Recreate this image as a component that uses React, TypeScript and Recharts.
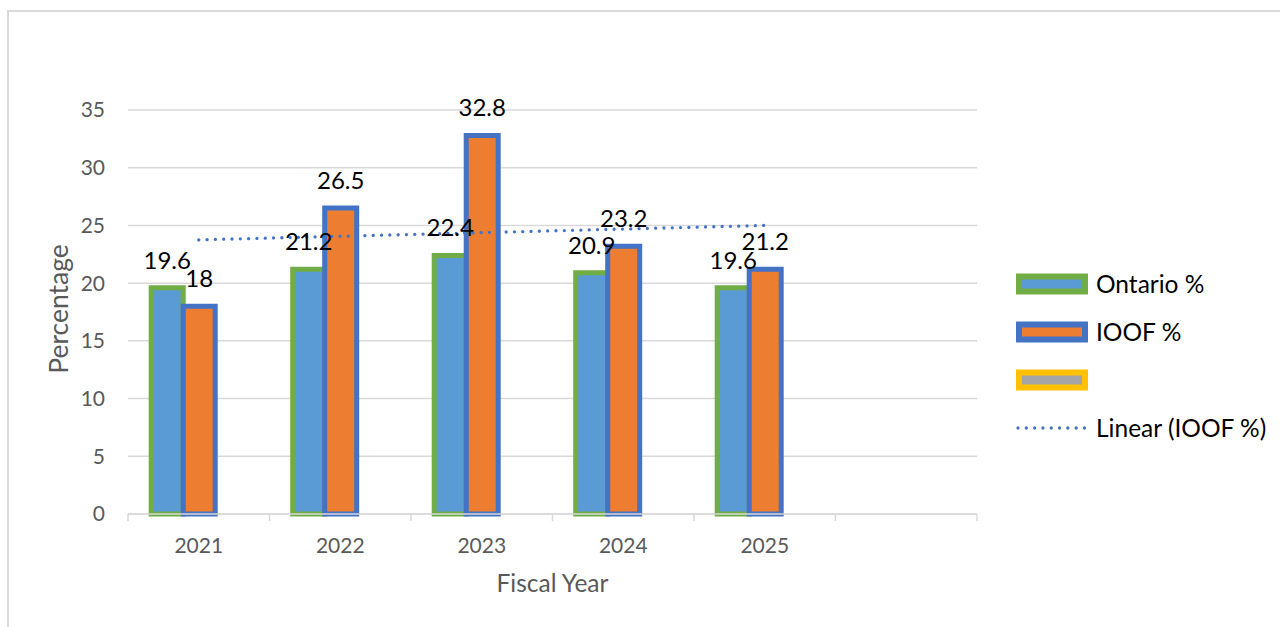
import React from 'react';
import { ComposedChart, Bar, Line, XAxis, YAxis, CartesianGrid, LabelList, Legend } from 'recharts';

const categories = ['2021', '2022', '2023', '2024', '2025', ' '];
const ontarioValues = [19.6, 21.2, 22.4, 20.9, 19.6, null];
const ioofValues = [18, 26.5, 32.8, 23.2, 21.2, null];
const blankValues = [null, null, null, null, null, null];
// Linear trend of IOOF % at its two ends
const trendValues = [23.75, null, null, null, 25.0, null];
const yTicks = [0, 5, 10, 15, 20, 25, 30, 35];

const seriesNames = ['Ontario %', 'IOOF %', '', 'Linear (IOOF %)'];
const seriesFills = ['#5B9BD5', '#ED7D31', '#A5A5A5', 'none'];
const seriesStrokes = ['#70AD47', '#4472C4', '#FFC000', '#4472C4'];

const data = categories.map((c, i) => ({
  year: c,
  ontario: ontarioValues[i],
  ioof: ioofValues[i],
  blank: blankValues[i],
  trend: trendValues[i],
}));

const FONT = 'Lato, "Open Sans", sans-serif';
const GRID = '#D9D9D9';
const AXIS_TEXT = '#595959';

const XTick = (props: any) => {
  const { x, y, payload, index } = props;
  const half = payload && typeof payload.offset === 'number' && payload.offset > 0 ? payload.offset : 70.75;
  const isLast = index === categories.length - 1;
  return (
    <g>
      <line x1={x - half} x2={x - half} y1={y} y2={y + 7} stroke={GRID} strokeWidth={1.5} />
      {isLast && <line x1={x + half} x2={x + half} y1={y} y2={y + 7} stroke={GRID} strokeWidth={1.5} />}
      <text x={x} y={y + 38.5} textAnchor="middle" fill={AXIS_TEXT} fontSize={21} fontFamily={FONT}>
        {payload.value}
      </text>
    </g>
  );
};

const FiscalLabel = (props: any) => {
  const vb = props.viewBox || { x: 128, y: 514, width: 849, height: 113 };
  return (
    <text x={vb.x + vb.width / 2} y={vb.y + 78} textAnchor="middle" fill={AXIS_TEXT} fontSize={24.5} fontFamily={FONT}>
      Fiscal Year
    </text>
  );
};

const PercentLabel = (props: any) => {
  const vb = props.viewBox || { x: 0, y: 110, width: 128, height: 404 };
  const cx = 68;
  const cy = vb.y + vb.height / 2 - 3;
  return (
    <text x={cx} y={cy} transform={`rotate(-90 ${cx} ${cy})`} textAnchor="middle" fill={AXIS_TEXT} fontSize={26.5} fontFamily={FONT}>
      Percentage
    </text>
  );
};

const LegendContent = () => {
  const centers = [24, 72, 120, 168];
  return (
    <svg width={272} height={200} style={{ display: 'block', fontFamily: FONT }}>
      {seriesNames.map((name, i) => {
        const cy = centers[i];
        return (
          <g key={i}>
            {i < 3 ? (
              <rect x={11} y={cy - 7.5} width={66} height={15} fill={seriesFills[i]} stroke={seriesStrokes[i]} strokeWidth={6} />
            ) : (
              <line x1={10} x2={79} y1={cy} y2={cy} stroke={seriesStrokes[i]} strokeWidth={3.3} strokeDasharray="0.01 8.3" strokeLinecap="round" />
            )}
            <text x={88} y={cy + 8.8} fill="#000" fontSize={24.5} fontFamily={FONT}>
              {name}
            </text>
          </g>
        );
      })}
    </svg>
  );
};

export default function App() {
  return (
    <div style={{ position: 'absolute', left: 0, top: 0, width: 1280, height: 627, overflow: 'hidden', background: '#fff' }}>
      <div
        style={{
          position: 'absolute',
          left: 7,
          top: 10,
          width: 1320,
          height: 700,
          border: `2px solid ${GRID}`,
          boxSizing: 'border-box',
        }}
      />
      <div style={{ position: 'absolute', left: 0, top: 0 }}>
        <ComposedChart
          width={1280}
          height={627}
          data={data}
          margin={{ top: 110, right: 303, bottom: 0, left: 0 }}
          barGap={0}
          barCategoryGap="16.4%"
          style={{ fontFamily: FONT }}
        >
          <CartesianGrid vertical={false} stroke={GRID} strokeWidth={1.5} />
          <XAxis
            dataKey="year"
            height={113}
            tickSize={0}
            tickMargin={0}
            tickLine={false}
            axisLine={{ stroke: GRID, strokeWidth: 1.5 }}
            tick={<XTick />}
            interval={0}
            label={<FiscalLabel />}
          />
          <YAxis
            width={128}
            domain={[0, 35]}
            ticks={yTicks}
            interval={0}
            axisLine={false}
            tickLine={false}
            tickSize={0}
            tickMargin={23}
            tick={{ fill: AXIS_TEXT, fontSize: 21, fontFamily: FONT }}
            label={<PercentLabel />}
          />
          <Legend
            layout="vertical"
            align="center"
            verticalAlign="middle"
            content={<LegendContent />}
            wrapperStyle={{ position: 'absolute', left: 1008, top: 260, width: 272, height: 200 }}
          />
          <Bar dataKey="ontario" name={seriesNames[0]} fill={seriesFills[0]} stroke={seriesStrokes[0]} strokeWidth={5} isAnimationActive={false}>
            <LabelList dataKey="ontario" position="top" offset={19} fill="#000" fontSize={24} fontFamily={FONT} />
          </Bar>
          <Bar dataKey="ioof" name={seriesNames[1]} fill={seriesFills[1]} stroke={seriesStrokes[1]} strokeWidth={5} isAnimationActive={false}>
            <LabelList dataKey="ioof" position="top" offset={19} fill="#000" fontSize={24} fontFamily={FONT} />
          </Bar>
          <Bar dataKey="blank" name={seriesNames[2]} fill={seriesFills[2]} stroke={seriesStrokes[2]} strokeWidth={5} isAnimationActive={false} />
          <Line
            dataKey="trend"
            name={seriesNames[3]}
            stroke={seriesStrokes[3]}
            strokeWidth={3.3}
            strokeDasharray="0.01 8.3"
            strokeLinecap="round"
            dot={false}
            activeDot={false}
            connectNulls
            isAnimationActive={false}
            legendType="none"
          />
        </ComposedChart>
      </div>
    </div>
  );
}
